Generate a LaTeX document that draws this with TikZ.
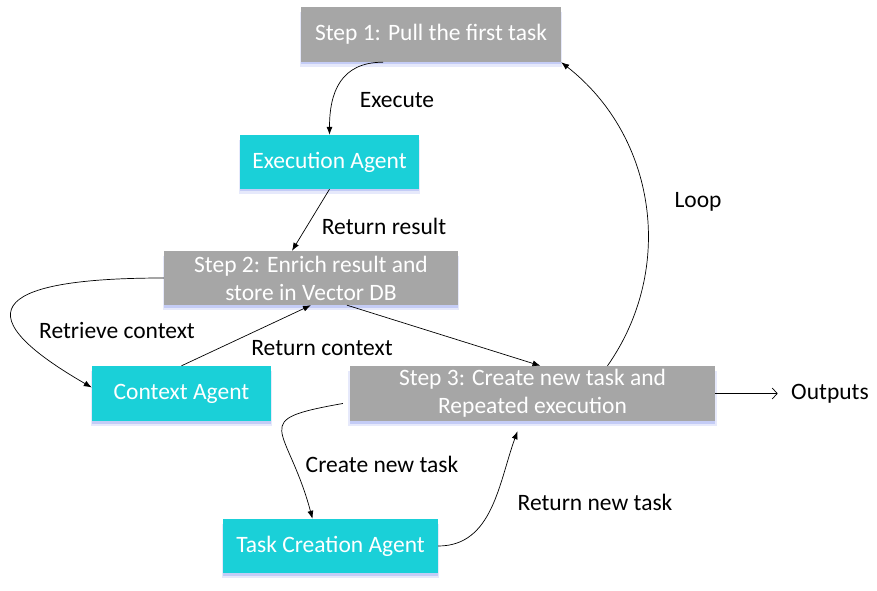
\documentclass[tikz,border=0pt]{standalone}
\usepackage{fontspec}
\setmainfont{Carlito}
\usetikzlibrary{shadows}
\usetikzlibrary{arrows.meta}
\definecolor{stepgray}{HTML}{A6A6A6}
\definecolor{agentcyan}{HTML}{1AD0D8}
\definecolor{glow}{HTML}{9AA8F0}

\begin{document}
\begin{tikzpicture}[x=1pt, y=1pt, font=\fontsize{23.5}{28}\selectfont]
    \tikzstyle basebox=[text=white, align=center, inner sep=0pt,
      drop shadow={shadow xshift=0pt, shadow yshift=-5pt, shadow scale=1.01, fill=glow, opacity=0.25},
      drop shadow={shadow xshift=0pt, shadow yshift=-2.5pt, fill=glow, opacity=0.45}]
    \tikzstyle stepbox=[basebox, fill=stepgray]
    \tikzstyle agentbox=[basebox, fill=agentcyan]
    \tikzstyle flow=[line width=0.7pt, black, -{Latex[length=8pt,width=6pt]}]
    \useasboundingbox (0,0) rectangle (877,590);
    % boxes
    \node[stepbox, minimum width=260pt, minimum height=55pt] (step1) at (431,555.5) {Step 1: Pull the first task};
    \node[agentbox, minimum width=179pt, minimum height=54pt] (exec) at (329.5,428) {Execution Agent};
    \node[stepbox, minimum width=294pt, minimum height=54pt] (step2) at (311,312) {Step 2: Enrich result and\\store in Vector DB};
    \node[agentbox, minimum width=179pt, minimum height=55pt] (context) at (181.5,196.5) {Context Agent};
    \node[stepbox, minimum width=365pt, minimum height=55pt] (step3) at (532.5,196.5) {Step 3: Create new task and\\Repeated execution};
    \node[agentbox, minimum width=215pt, minimum height=54pt] (taskc) at (330.5,44) {Task Creation Agent};
    \node (outputs) at (830,196.5) {Outputs};
    % labels
    \node (lexec) at (397,490) {Execute};
    \node (lresult) at (384,364) {Return result};
    \node (lretrieve) at (117,259) {Retrieve context};
    \node (lreturnc) at (322,242) {Return context};
    \node (lloop) at (698,388) {Loop};
    \node (lcreate) at (382,126) {Create new task};
    \node (lreturnt) at (595,88) {Return new task};
    % connectors
    \draw[flow] ([xshift=-48pt]step1.south) to[out=180, in=90, looseness=1.2] (exec.north);
    \draw[flow] (exec.south) -- ([xshift=-19pt]step2.north);
    \draw[flow] (step2.west) to[out=180, in=150, looseness=3.1] ([yshift=6pt]context.west);
    \draw[flow] (context.north) -- (step2.south);
    \draw[flow] ([xshift=36pt]step2.south) -- ([xshift=8pt]step3.north);
    \draw[flow] ([xshift=75pt]step3.north) to[out=55, in=-38] (step1.south east);
    \draw[line width=0.7pt, -{Straight Barb[length=5pt,width=11pt]}] (step3.east) -- ([xshift=-10pt]outputs.west);
    \draw[flow] ([xshift=-7pt, yshift=-10pt]step3.west) to[out=190, in=105, looseness=2.1] ([xshift=-18pt]taskc.north);
    \draw[flow] (taskc.east) to[out=0, in=-110] ([xshift=-15pt, yshift=-10pt]step3.south);
\end{tikzpicture}
\end{document}
